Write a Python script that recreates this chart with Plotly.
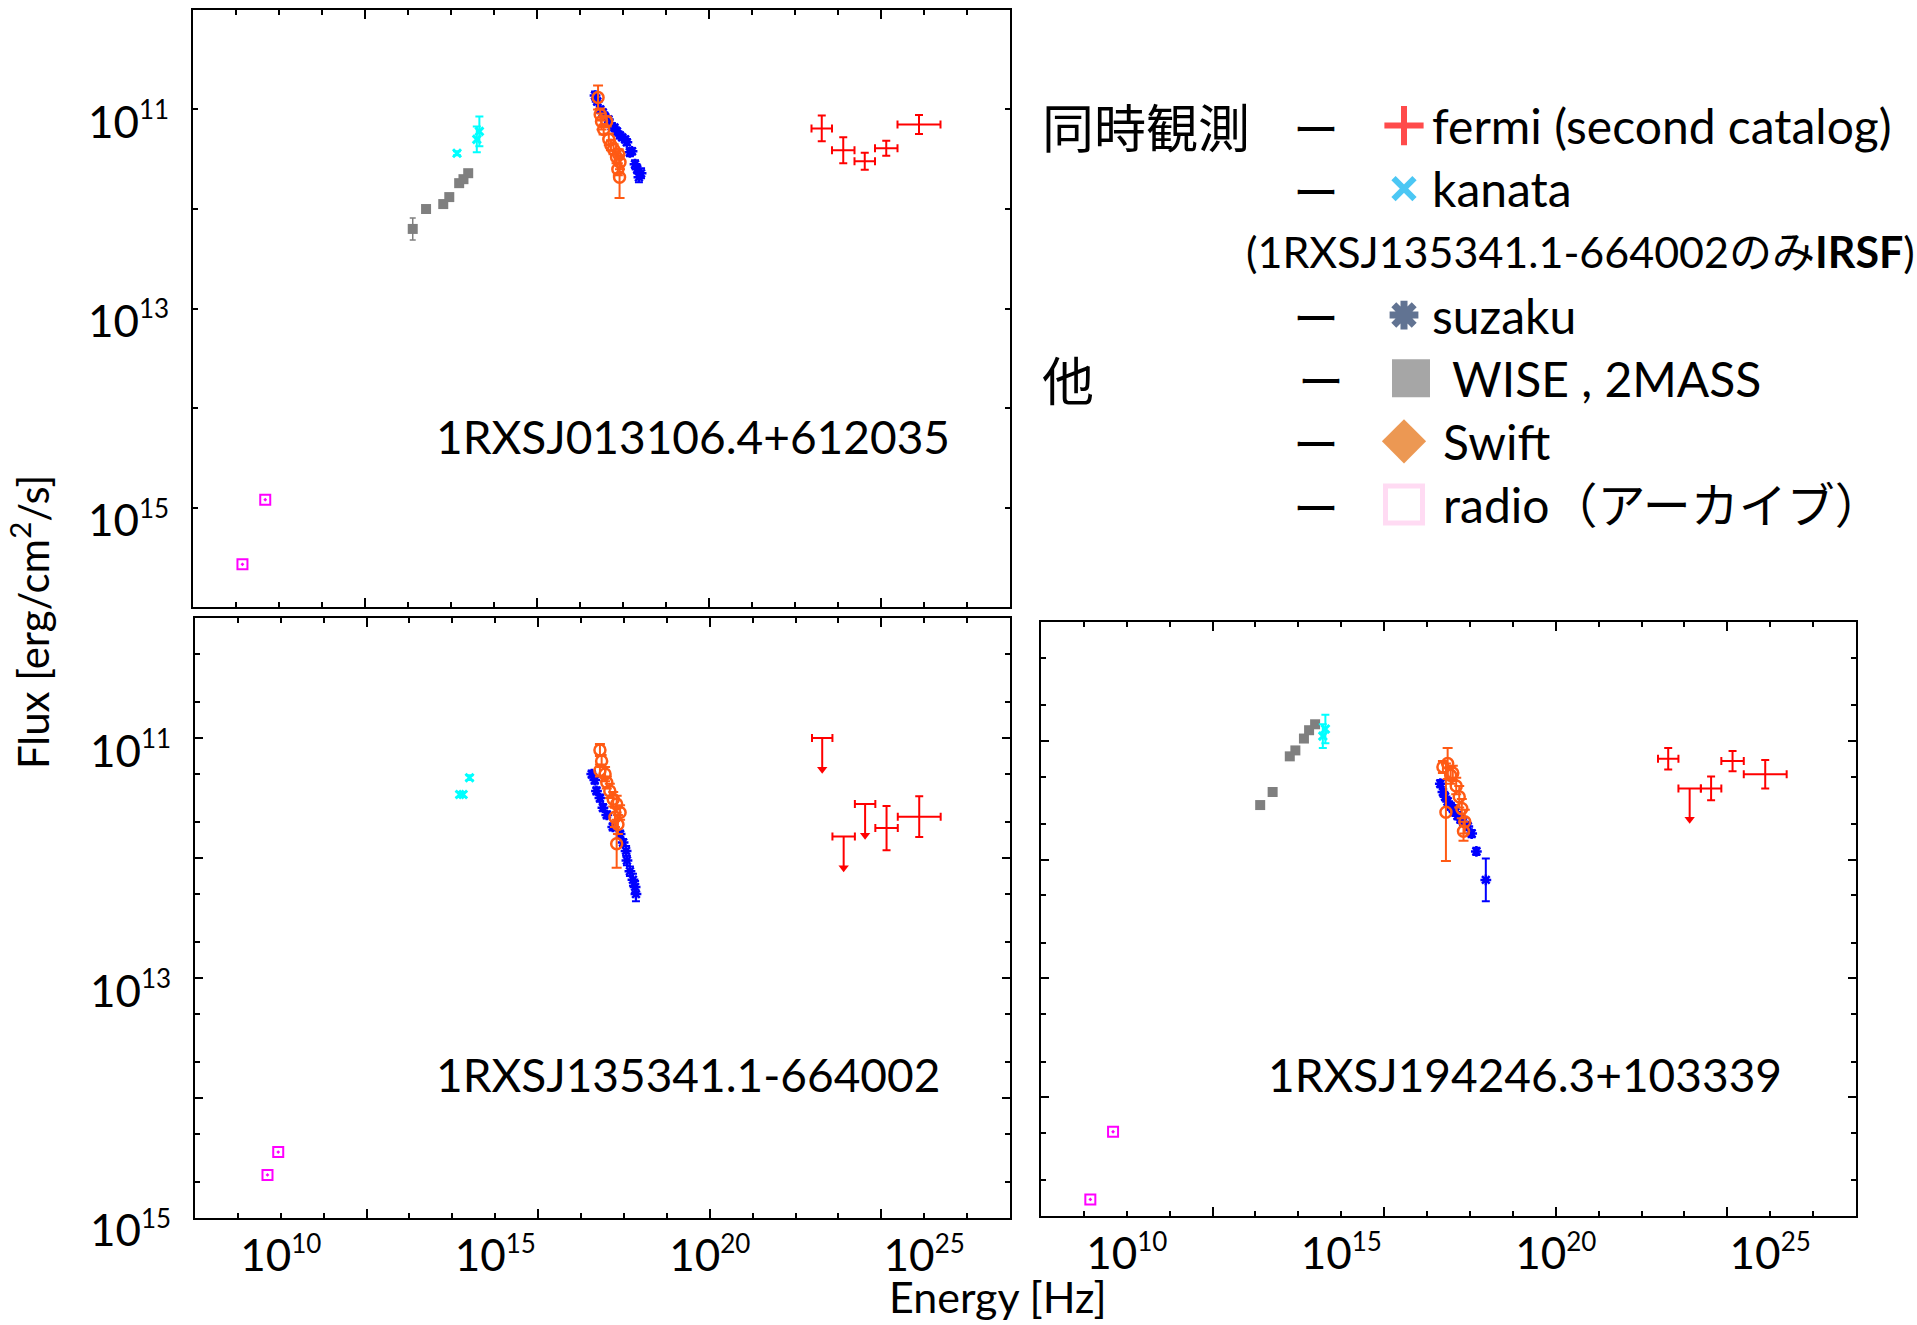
import numpy as np
import plotly.graph_objects as go

# ---------------------------------------------------------------------------
# Data: frequencies as log10(nu [Hz]); flux-axis readings as log10 of the axis value
# ---------------------------------------------------------------------------
sources = ["1RXSJ013106.4+612035", "1RXSJ135341.1-664002", "1RXSJ194246.3+103339"]

# Fermi 2FGL energy bands (0.1-0.3-1-3-10-100 GeV) expressed in Hz
fermi_lo_hz = [2.42e22, 7.25e22, 2.42e23, 7.25e23, 2.42e24]
fermi_hi_hz = [7.25e22, 2.42e23, 7.25e23, 2.42e24, 2.42e25]

# --- 1RXSJ013106.4+612035 ---
radio_a_lognu = [9.15, 9.68]
radio_a_logf = [15.57, 14.92]
wise_a_lognu = [13.11, 13.42, 13.82, 13.96, 14.19, 14.29, 14.40]
wise_a_logf = [12.20, 12.00, 11.95, 11.88, 11.74, 11.70, 11.64]
wise_a_err = [0.11, 0.0, 0.0, 0.0, 0.0, 0.0, 0.0]
kanata_a_lognu = [14.14, 14.60, 14.66]
kanata_a_logf = [11.44, 11.30, 11.22]
kanata_a_err = [0.02, 0.13, 0.15]
suzaku_a_lognu = [17.35, 17.40, 17.47, 17.53, 17.58, 17.66, 17.74, 17.80, 17.86, 17.93,
                  17.98, 18.05, 18.09, 18.16, 18.21, 18.28, 18.33, 18.37, 18.42]
suzaku_a_logf = [10.86, 10.92, 11.00, 11.03, 11.07, 11.10, 11.17, 11.18, 11.22, 11.26,
                 11.28, 11.30, 11.33, 11.43, 11.42, 11.55, 11.60, 11.68, 11.64]
suzaku_a_err = [0.04, 0.03, 0.03, 0.03, 0.02, 0.03, 0.03, 0.02, 0.03, 0.03,
                0.03, 0.03, 0.03, 0.04, 0.03, 0.04, 0.04, 0.05, 0.05]
swift_a_lognu = [17.42, 17.47, 17.50, 17.55, 17.62, 17.67, 17.72, 17.78, 17.85, 17.90, 17.93, 17.88, 17.92]
swift_a_logf = [10.88, 11.05, 11.12, 11.20, 11.12, 11.30, 11.36, 11.40, 11.48, 11.45, 11.53, 11.60, 11.68]
swift_a_err = [0.12, 0.06, 0.08, 0.05, 0.05, 0.06, 0.05, 0.05, 0.06, 0.05, 0.07, 0.06, 0.21]
fermi_a_logf = [11.19, 11.41, 11.52, 11.39, 11.15]
fermi_a_err = [0.13, 0.13, 0.085, 0.075, 0.095]
fermi_a_ul = [0, 0, 0, 0, 0]

# --- 1RXSJ135341.1-664002 ---
radio_b_lognu = [9.69, 9.94]
radio_b_logf = [14.64, 14.45]
wise_b_lognu = []
wise_b_logf = []
wise_b_err = []
kanata_b_lognu = [14.17, 14.25, 14.40]
kanata_b_logf = [11.47, 11.47, 11.33]
kanata_b_err = [0.02, 0.02, 0.02]
suzaku_b_lognu = [17.25, 17.32, 17.36, 17.44, 17.51, 17.60, 17.74, 17.91, 17.98, 18.05,
                  18.07, 18.14, 18.21, 18.26, 18.28]
suzaku_b_logf = [11.30, 11.35, 11.44, 11.50, 11.58, 11.64, 11.74, 11.80, 11.87, 11.94,
                 12.02, 12.11, 12.18, 12.24, 12.30]
suzaku_b_err = [0.03, 0.03, 0.03, 0.03, 0.03, 0.03, 0.03, 0.03, 0.03, 0.04,
                0.04, 0.04, 0.05, 0.05, 0.06]
swift_b_lognu = [17.44, 17.48, 17.44, 17.56, 17.60, 17.67, 17.75, 17.83, 17.91, 17.79, 17.86, 17.83]
swift_b_logf = [11.10, 11.19, 11.27, 11.30, 11.37, 11.44, 11.51, 11.55, 11.62, 11.66, 11.72, 11.88]
swift_b_err = [0.05, 0.05, 0.05, 0.06, 0.05, 0.06, 0.06, 0.07, 0.06, 0.08, 0.08, 0.20]
fermi_b_logf = [11.00, 11.82, 11.55, 11.75, 11.655]
fermi_b_err = [0.0, 0.0, 0.0, 0.185, 0.17]
fermi_b_ul = [1, 1, 1, 0, 0]

# --- 1RXSJ194246.3+103339 ---
radio_c_lognu = [9.15, 9.68]
radio_c_logf = [14.86, 14.29]
wise_c_lognu = [13.11, 13.40, 13.80, 13.93, 14.13, 14.25, 14.39]
wise_c_logf = [11.54, 11.43, 11.13, 11.08, 10.98, 10.91, 10.86]
wise_c_err = [0.0, 0.0, 0.0, 0.0, 0.0, 0.0, 0.0]
kanata_c_lognu = [14.57, 14.63]
kanata_c_logf = [10.96, 10.90]
kanata_c_err = [0.10, 0.12]
suzaku_c_lognu = [17.31, 17.37, 17.42, 17.48, 17.55, 17.60, 17.66, 17.71, 17.78, 17.84, 17.95, 18.04, 18.15, 18.37]
suzaku_c_logf = [11.36, 11.43, 11.47, 11.51, 11.55, 11.57, 11.60, 11.63, 11.66, 11.68, 11.72, 11.78, 11.93, 12.17]
suzaku_c_err = [0.03, 0.03, 0.03, 0.03, 0.03, 0.03, 0.03, 0.03, 0.03, 0.03, 0.03, 0.03, 0.03, 0.18]
swift_c_lognu = [17.37, 17.48, 17.44, 17.55, 17.60, 17.68, 17.75, 17.81, 17.88, 17.85]
swift_c_logf = [11.22, 11.19, 11.60, 11.29, 11.27, 11.38, 11.47, 11.57, 11.68, 11.76]
swift_c_err = [0.05, 0.13, 0.41, 0.07, 0.06, 0.07, 0.09, 0.08, 0.10, 0.08]
fermi_c_logf = [11.15, 11.40, 11.40, 11.17, 11.28]
fermi_c_err = [0.09, 0.0, 0.10, 0.085, 0.12]
fermi_c_ul = [0, 1, 0, 0, 0]

# Tick labels
energy_tick_exp = [10, 15, 20, 25]
flux_tick_exp = [11, 13, 15]

# Legend rows
legend_names = ["fermi (second catalog)", "kanata", "suzaku", "WISE , 2MASS", "Swift", "radio（アーカイブ）"]
legend_note = "(1RXSJ135341.1-664002のみ<b>IRSF</b>)"
legend_groups = ["同時観測", "他"]

# ---------------------------------------------------------------------------
# Styling
# ---------------------------------------------------------------------------
W = 1917            # page width
H = 1325            # vertical basis used for positioning
H_LAYOUT = 1358     # figure height handed to plotly
LATIN = "Lato, 'Noto Sans CJK JP', sans-serif"
CJK = "'Noto Sans CJK JP', Lato, sans-serif"

C_FERMI = "#ff0000"
C_KANATA = "#00ffff"
C_SUZAKU = "#0000ff"
C_WISE = "#7f7f7f"
C_SWIFT = "#ff5a14"
C_RADIO = "#ff00ff"
UL_ARROW_DEX = 0.26   # length of an upper-limit arrow stem in decades


def logerr(logv, dex):
    v = 10.0 ** np.asarray(logv, dtype=float)
    d = np.asarray(dex, dtype=float)
    return v * (10.0 ** d - 1.0), v * (1.0 - 10.0 ** (-d))


def sup_label(exp, size):
    return f"10<sup><span style='font-size:{size}px'>{exp}</span></sup>"


def fy(px):
    """paper y fraction for a distance px from the top"""
    return 1 - px / H


fig = go.Figure()

panel_data = [
    dict(xa="x", ya="y",
         radio=(radio_a_lognu, radio_a_logf), wise=(wise_a_lognu, wise_a_logf, wise_a_err),
         kanata=(kanata_a_lognu, kanata_a_logf, kanata_a_err),
         suzaku=(suzaku_a_lognu, suzaku_a_logf, suzaku_a_err),
         swift=(swift_a_lognu, swift_a_logf, swift_a_err),
         fermi=(fermi_a_logf, fermi_a_err, fermi_a_ul)),
    dict(xa="x2", ya="y2",
         radio=(radio_b_lognu, radio_b_logf), wise=(wise_b_lognu, wise_b_logf, wise_b_err),
         kanata=(kanata_b_lognu, kanata_b_logf, kanata_b_err),
         suzaku=(suzaku_b_lognu, suzaku_b_logf, suzaku_b_err),
         swift=(swift_b_lognu, swift_b_logf, swift_b_err),
         fermi=(fermi_b_logf, fermi_b_err, fermi_b_ul)),
    dict(xa="x3", ya="y3",
         radio=(radio_c_lognu, radio_c_logf), wise=(wise_c_lognu, wise_c_logf, wise_c_err),
         kanata=(kanata_c_lognu, kanata_c_logf, kanata_c_err),
         suzaku=(suzaku_c_lognu, suzaku_c_logf, suzaku_c_err),
         swift=(swift_c_lognu, swift_c_logf, swift_c_err),
         fermi=(fermi_c_logf, fermi_c_err, fermi_c_ul)),
]

fermi_lo = np.array(fermi_lo_hz)
fermi_hi = np.array(fermi_hi_hz)
fermi_nu = np.sqrt(fermi_lo * fermi_hi)

for p in panel_data:
    ax = dict(xaxis=p["xa"], yaxis=p["ya"], showlegend=False, hoverinfo="skip", cliponaxis=False)

    # radio archive
    lx, ly = p["radio"]
    fig.add_trace(go.Scatter(x=10.0 ** np.array(lx), y=10.0 ** np.array(ly), mode="markers",
                             marker=dict(symbol="square-open-dot", size=10, color=C_RADIO,
                                         line=dict(color=C_RADIO, width=2)), **ax))

    # WISE / 2MASS
    lx, ly, e = p["wise"]
    if len(lx):
        ep, em = logerr(ly, e)
        fig.add_trace(go.Scatter(x=10.0 ** np.array(lx), y=10.0 ** np.array(ly), mode="markers",
                                 marker=dict(symbol="square", size=10, color=C_WISE),
                                 error_y=dict(type="data", symmetric=False, array=ep, arrayminus=em,
                                              color=C_WISE, thickness=1.5, width=3),
                                 **ax))

    # Kanata
    lx, ly, e = p["kanata"]
    ep, em = logerr(ly, e)
    fig.add_trace(go.Scatter(x=10.0 ** np.array(lx), y=10.0 ** np.array(ly), mode="markers",
                             marker=dict(symbol="x-thin", size=8, color=C_KANATA,
                                         line=dict(color=C_KANATA, width=3)),
                             error_y=dict(type="data", symmetric=False, array=ep, arrayminus=em,
                                          color=C_KANATA, thickness=2, width=4),
                             **ax))

    # Suzaku
    lx, ly, e = p["suzaku"]
    ep, em = logerr(ly, e)
    fig.add_trace(go.Scatter(x=10.0 ** np.array(lx), y=10.0 ** np.array(ly), mode="markers",
                             marker=dict(symbol="asterisk", size=9, color=C_SUZAKU,
                                         line=dict(color=C_SUZAKU, width=2.5)),
                             error_y=dict(type="data", symmetric=False, array=ep, arrayminus=em,
                                          color=C_SUZAKU, thickness=2, width=4),
                             **ax))

    # Swift
    lx, ly, e = p["swift"]
    ep, em = logerr(ly, e)
    fig.add_trace(go.Scatter(x=10.0 ** np.array(lx), y=10.0 ** np.array(ly), mode="markers",
                             marker=dict(symbol="circle-open", size=11, color=C_SWIFT,
                                         line=dict(color=C_SWIFT, width=2.5)),
                             error_y=dict(type="data", symmetric=False, array=ep, arrayminus=em,
                                          color=C_SWIFT, thickness=2, width=5),
                             **ax))

    # Fermi: detections and upper limits
    ly, e, ul = p["fermi"]
    ly = np.array(ly)
    e = np.array(e)
    ul = np.array(ul, dtype=bool)
    xp = fermi_hi - fermi_nu
    xm = fermi_nu - fermi_lo
    det = ~ul
    if det.any():
        ep, em = logerr(ly[det], e[det])
        fig.add_trace(go.Scatter(x=fermi_nu[det], y=10.0 ** ly[det], mode="markers",
                                 marker=dict(size=1, color="rgba(0,0,0,0)"),
                                 error_x=dict(type="data", symmetric=False, array=xp[det], arrayminus=xm[det],
                                              color=C_FERMI, thickness=2, width=4),
                                 error_y=dict(type="data", symmetric=False, array=ep, arrayminus=em,
                                              color=C_FERMI, thickness=2, width=4),
                                 **ax))
    if ul.any():
        stem = 10.0 ** (ly[ul] + UL_ARROW_DEX) - 10.0 ** ly[ul]
        fig.add_trace(go.Scatter(x=fermi_nu[ul], y=10.0 ** ly[ul], mode="markers",
                                 marker=dict(size=1, color="rgba(0,0,0,0)"),
                                 error_x=dict(type="data", symmetric=False, array=xp[ul], arrayminus=xm[ul],
                                              color=C_FERMI, thickness=2, width=4),
                                 error_y=dict(type="data", symmetric=False, array=stem,
                                              arrayminus=np.zeros(int(ul.sum())),
                                              color=C_FERMI, thickness=2, width=0),
                                 **ax))
        fig.add_trace(go.Scatter(x=fermi_nu[ul], y=10.0 ** (ly[ul] + UL_ARROW_DEX), mode="markers",
                                 marker=dict(symbol="triangle-down", size=9, color=C_FERMI),
                                 **ax))

# empty traces to bind the overlay axes that carry the energy tick labels
fig.add_trace(go.Scatter(x=[], y=[], xaxis="x5", yaxis="y2", showlegend=False, hoverinfo="skip"))
fig.add_trace(go.Scatter(x=[], y=[], xaxis="x6", yaxis="y3", showlegend=False, hoverinfo="skip"))

# ---------------------------------------------------------------------------
# Legend keys (own hidden axes, one row per entry)
# ---------------------------------------------------------------------------
legend_row = [0, 1, 3, 4, 5, 6]
legend_symbols = ["cross-thin", "x-thin", "asterisk", "square", "diamond", "square-open"]
legend_colors = ["#ff0000", "#00b0f0", "#1f3864", "#808080", "#e46c0a", "#ffccee"]
legend_sizes = [28, 21, 24, 38, 34, 37]
legend_lw = [6, 6, 7, 0, 0, 5]
legend_key_x = [1404, 1404, 1404, 1411, 1404, 1404]
legend_text_x = [1430, 1430, 1430, 1450, 1441, 1441]

fig.add_trace(go.Scatter(x=legend_key_x, y=legend_row, mode="markers", xaxis="x4", yaxis="y4",
                         showlegend=False, hoverinfo="skip", cliponaxis=False,
                         marker=dict(symbol=legend_symbols, size=legend_sizes, color=legend_colors,
                                     line=dict(color=legend_colors, width=legend_lw))))

# ---------------------------------------------------------------------------
# Axes
# ---------------------------------------------------------------------------
panels_px = [
    dict(x=(193, 1010), y=(10, 609), yr=(16, 10), labels=True, minor=False, ylen=5),
    dict(x=(195, 1010), y=(620, 1222), yr=(15.002, 10), labels=True, minor=True, ylen=8),
    dict(x=(1041, 1856), y=(624, 1220), yr=(15.002, 10), labels=False, minor=True, ylen=8),
]

layout_axes = {}
for i, pp in enumerate(panels_px, start=1):
    sfx = "" if i == 1 else str(i)
    xdom = [pp["x"][0] / W, pp["x"][1] / W]
    ydom = [fy(pp["y"][1]), fy(pp["y"][0])]
    layout_axes["xaxis" + sfx] = dict(
        type="log", range=[8, 27], domain=xdom, anchor="y" + sfx,
        showgrid=False, zeroline=False, showline=True, linecolor="black", linewidth=2,
        mirror="ticks", ticks="inside", ticklen=9, tickwidth=2, tickcolor="black",
        tickvals=[10.0 ** k for k in (12, 16, 20, 24)], showticklabels=False,
        minor=dict(ticks="inside", ticklen=5, tickwidth=2, tickcolor="black",
                   tickvals=[10.0 ** k for k in range(9, 27)], showgrid=False),
    )
    yt = list(range(11, 16))
    ycfg = dict(
        type="log", range=list(pp["yr"]), domain=ydom, anchor="x" + sfx,
        showgrid=False, zeroline=False, showline=True, linecolor="black", linewidth=2,
        mirror="ticks", ticks="inside", ticklen=pp["ylen"], tickwidth=2, tickcolor="black",
        tickvals=[10.0 ** k for k in yt],
        ticktext=[sup_label(k, 26) if (pp["labels"] and k in flux_tick_exp) else "" for k in yt],
        showticklabels=pp["labels"],
        tickfont=dict(family=LATIN, size=44, color="black"),
        ticklabelstandoff=13, ticklabelshift=-13,
    )
    if pp["minor"]:
        ycfg["minor"] = dict(ticks="inside", ticklen=5, tickwidth=2, tickcolor="black",
                             tickvals=[m * 10.0 ** k for k in range(10, 15) for m in (2, 5)],
                             showgrid=False)
    layout_axes["yaxis" + sfx] = ycfg

for name, over, anc in (("xaxis5", "x2", "y2"), ("xaxis6", "x3", "y3")):
    layout_axes[name] = dict(
        type="log", range=[8, 27], overlaying=over, anchor=anc, side="bottom",
        showgrid=False, zeroline=False, showline=False, ticks="",
        tickvals=[10.0 ** k for k in energy_tick_exp],
        ticktext=[sup_label(k, 26) for k in energy_tick_exp],
        tickfont=dict(family=LATIN, size=44, color="black"),
        ticklabelstandoff=8,
    )

LEG_TOP, LEG_BOT = 94.3, 537.7
layout_axes["xaxis4"] = dict(domain=[1342 / W, 1457 / W], range=[1342, 1457], visible=False, anchor="y4")
layout_axes["yaxis4"] = dict(domain=[fy(LEG_BOT), fy(LEG_TOP)], range=[6.5, -0.5],
                             visible=False, anchor="x4")

# ---------------------------------------------------------------------------
# Text
# ---------------------------------------------------------------------------
ann = []
label_pos = [("x domain", "y domain", 0.612, 0.285),
             ("x2 domain", "y2 domain", 0.6055, 0.239),
             ("x3 domain", "y3 domain", 0.594, 0.238)]
for name, (xr, yr, xx, yy) in zip(sources, label_pos):
    ann.append(dict(text=name, xref=xr, yref=yr, x=xx, y=yy, showarrow=False,
                    xanchor="center", yanchor="middle",
                    font=dict(family=LATIN, size=46, color="black")))

ann.append(dict(text="Flux [erg/cm<sup>2</sup>/s]", xref="paper", yref="paper",
                x=30 / W, y=fy(624), textangle=-90, showarrow=False,
                xanchor="center", yanchor="middle", font=dict(family=LATIN, size=42, color="black")))
ann.append(dict(text="Energy [Hz]", xref="paper", yref="paper",
                x=998 / W, y=fy(1300), showarrow=False,
                xanchor="center", yanchor="middle", font=dict(family=LATIN, size=43, color="black")))

# legend texts
ann.append(dict(text=legend_groups[0], xref="paper", yref="y4", x=1040 / W, y=0, showarrow=False,
                xanchor="left", yanchor="middle", font=dict(family=CJK, size=52, color="black")))
ann.append(dict(text=legend_groups[1], xref="paper", yref="y4", x=1040 / W, y=4, showarrow=False,
                xanchor="left", yanchor="middle", font=dict(family=CJK, size=52, color="black")))
for r, tx, name in zip(legend_row, legend_text_x, legend_names):
    dash_x = 1321 if r == 4 else 1316
    ann.append(dict(text="ー", xref="paper", yref="y4", x=dash_x / W, y=r, showarrow=False,
                    xanchor="center", yanchor="middle", font=dict(family=CJK, size=46, color="black")))
    ann.append(dict(text=name, xref="paper", yref="y4", x=tx / W, y=r, showarrow=False,
                    xanchor="left", yanchor="middle", font=dict(family=LATIN, size=48, color="black")))
ann.append(dict(text=legend_note, xref="paper", yref="y4", x=1244 / W, y=2, showarrow=False,
                xanchor="left", yanchor="middle", font=dict(family=LATIN, size=43, color="black")))

fig.update_layout(
    width=W, height=H_LAYOUT, margin=dict(l=0, r=0, t=0, b=0),
    paper_bgcolor="white", plot_bgcolor="white",
    showlegend=False, annotations=ann, **layout_axes,
)

fig.write_html("out.html")
